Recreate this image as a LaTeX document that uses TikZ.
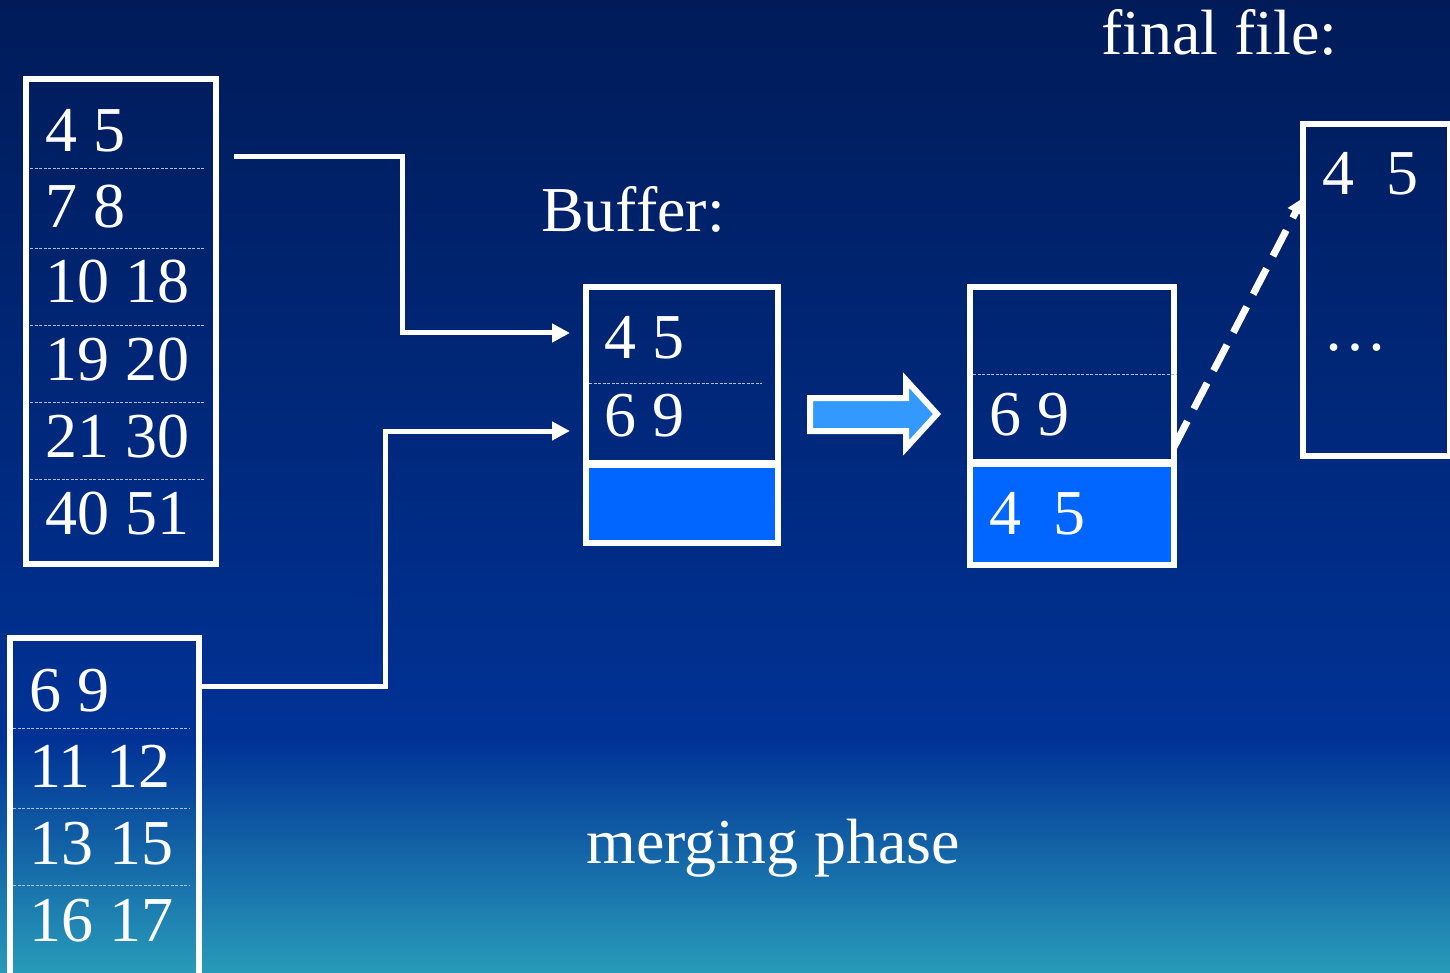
\documentclass[tikz,border=0pt]{standalone}
\usepackage{fontspec}
\setmainfont{Liberation Serif}
\usetikzlibrary{arrows.meta}
\definecolor{bgtop}{RGB}{0,27,88}
\definecolor{bgmid}{RGB}{0,50,150}
\definecolor{bgbot}{RGB}{40,155,185}
\definecolor{slotblue}{RGB}{0,102,255}
\definecolor{arrowblue}{RGB}{51,153,255}
\definecolor{sepgray}{RGB}{175,190,215}
\begin{document}
\begin{tikzpicture}[x=1pt,y=-1pt,
  box/.style={draw=white,line width=6.5pt,inner sep=0pt,outer sep=0pt},
  slot/.style={fill=slotblue,draw=none,inner sep=0pt,outer sep=0pt},
  sepline/.style={draw=sepgray,line width=0.9pt,dash pattern=on 3pt off 1.5pt},
  lbl/.style={text=white,anchor=base west,inner sep=0pt,font=\fontsize{64}{70}\selectfont},
  conn/.style={draw=white,line width=5pt,-{Triangle[length=18pt,width=18pt]}},
  flow/.style={draw=white,line width=7pt,dash pattern=on 29pt off 14pt,-{Triangle[length=16pt,width=17pt]}},
  ]
\useasboundingbox (0,0) rectangle (1450,973);
% background
\fill[top color=bgtop,bottom color=bgmid] (0,0) rectangle (1450,741);
\fill[top color=bgmid,bottom color=bgbot] (0,740) rectangle (1450,973);
\clip (0,0) rectangle (1450,973);

% ---- first run (top left)
\node[box,minimum width=190pt,minimum height=485pt] (runA) at (121,321.5) {};
\foreach \yy in {168,248,325,402,479} \draw[sepline] (30,\yy) -- (205,\yy);
\node[lbl] (a1) at (45,152) {4 5};
\node[lbl] (a2) at (45,228) {7 8};
\node[lbl] (a3) at (45,303) {10 18};
\node[lbl] (a4) at (45,380) {19 20};
\node[lbl] (a5) at (45,457) {21 30};
\node[lbl] (a6) at (45,534) {40 51};

% ---- second run (bottom left)
\node[box,minimum width=189pt,minimum height=362pt] (runB) at (104.5,819) {};
\foreach \yy in {728,808,885} \draw[sepline] (13,\yy) -- (189,\yy);
\node[lbl] (b1) at (29,711) {6 9};
\node[lbl] (b2) at (29,787) {11 12};
\node[lbl] (b3) at (29,864) {13 15};
\node[lbl] (b4) at (29,941) {16 17};

% ---- buffer
\node[lbl] (buflbl) at (541,232) {Buffer:};
\node[slot,minimum width=192pt,minimum height=79pt] (bufout) at (682,503.5) {};
\node[box,minimum width=192pt,minimum height=256pt] (buf) at (682,415) {};
\draw[white,line width=8pt] (buf.west |- 0,464) -- (buf.east |- 0,464);
\draw[sepline] (589,383) -- (762,383);
\node[lbl] (buf1) at (604,358) {4 5};
\node[lbl] (buf2) at (604,436) {6 9};

% ---- buffer after the step
\node[slot,minimum width=204pt,minimum height=102pt] (nextout) at (1072,514) {};
\node[box,minimum width=204pt,minimum height=278pt] (next) at (1072,426) {};
\draw[white,line width=8pt] (next.west |- 0,463) -- (next.east |- 0,463);
\draw[sepline] (973,374) -- (1177,374);
\node[lbl] (next1) at (989,435) {6 9};
\node[lbl] (next2) at (989,534) {4\ \ 5};

% ---- final file
\node[lbl] (finlbl) at (1101,55) {final file:};
\node[box,minimum width=147pt,minimum height=332pt] (final) at (1376.5,290) {};
\node[lbl] (fin1) at (1322,195) {4\ \ 5};
\node[lbl] (fin2) at (1323,350) {…};

% ---- merging phase caption
\node[lbl] (caption) at (586,863) {merging phase};

% ---- connectors
\coordinate (pa) at (234,157);
\coordinate (ta) at (570,333);
\coordinate (pb) at (runB.east |- 0,686);
\coordinate (tb) at (570,431);
\draw[conn] (pa) -- (402,157) -- (402,333) -- (ta);
\draw[conn] (pb) -- (385,686) -- (385,431) -- (tb);

% block arrow between the two buffers
\draw[white,line width=6pt,fill=arrowblue,line join=miter]
  (810,398) -- (906,398) -- (906,380) -- (937,414) -- (906,448) -- (906,431) -- (810,431) -- cycle;

% dashed arrow into the final file
\coordinate (fs) at (next.east |- 0,447);
\coordinate (fe) at (final.west |- 0,198);
\draw[flow] (fs) -- (fe);
\end{tikzpicture}
\end{document}
